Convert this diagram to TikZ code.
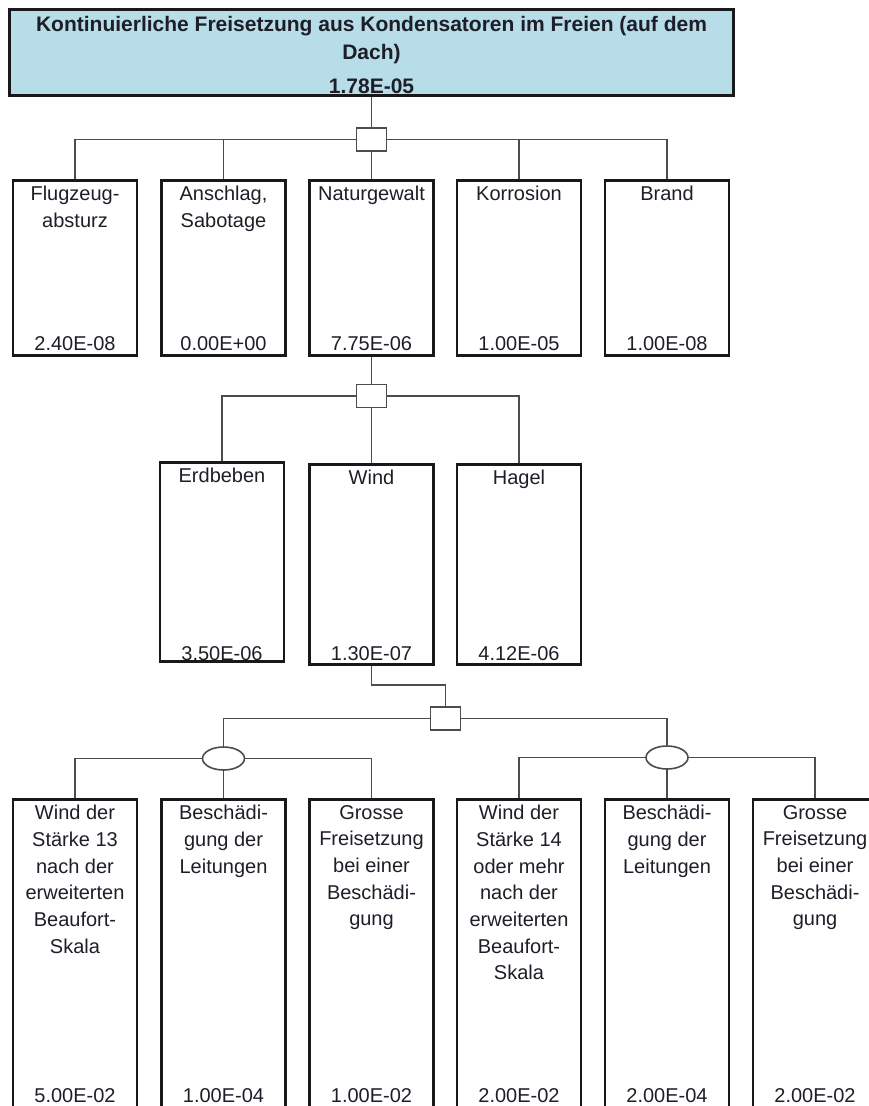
\documentclass[tikz,border=0pt]{standalone}
\usepackage{fontspec}
\setmainfont{Liberation Sans}
\usetikzlibrary{positioning,shapes.geometric}
\definecolor{topblue}{RGB}{183,221,232}
\definecolor{ink}{RGB}{30,30,40}

\begin{document}
\begin{tikzpicture}[x=1pt,y=-1pt,
 ev/.style={draw=black!90,line width=2.6pt,minimum width=124pt,inner sep=0pt},
 evA/.style={ev,minimum height=175pt},
 evB/.style={ev,minimum height=200pt},
 evC/.style={ev,minimum height=308.5pt},
 txt/.style={align=center,inner sep=0pt,text=ink,font=\fontsize{20}{26.7}\selectfont},
 val/.style={txt,anchor=south},
 andg/.style={draw=black!70,fill=white,line width=1.6pt,minimum width=30pt,minimum height=23pt,inner sep=0pt},
 org/.style={ellipse,draw=black!70,fill=white,line width=1.6pt,minimum width=42pt,minimum height=23pt,inner sep=0pt},
 con/.style={draw=black!70,line width=1.6pt}]
 \useasboundingbox (0,0) rectangle (869,1106);
 \clip (0,0) rectangle (869,1106);
 % top event
 \node[draw=black!90,line width=2.6pt,fill=topblue,minimum width=724pt,minimum height=86pt,inner sep=0pt] (topev) at (371.5,52.5) {};
 \node[txt,font=\bfseries\fontsize{21}{28}\selectfont,below=8pt of topev.north] (topev-t) {Kontinuierliche Freisetzung aus Kondensatoren im Freien (auf dem\\Dach)};
 \node[val,font=\bfseries\fontsize{21}{28}\selectfont,above=3pt of topev.south] (topev-v) {1.78E-05};
 % gates
 \node[andg] (g1) at (371.5,139.5) {};
 \node[andg] (g2) at (371.5,396) {};
 \node[andg] (g3) at (445.5,718.5) {};
 \node[org] (or1) at (223.5,758.5) {};
 \node[org] (or2) at (667,757.5) {};
 % first level
 \node[evA] (flug) at (75,268) {};
 \node[evA] (ansch) at (223.5,268) {};
 \node[evA] (natur) at (371.5,268) {};
 \node[evA] (korr) at (519,268) {};
 \node[evA] (brand) at (667,268) {};
 \node[txt,below=7pt of flug.north] (flug-t) {Flugzeug-\\absturz};
 \node[txt,below=7pt of ansch.north] (ansch-t) {Anschlag,\\Sabotage};
 \node[txt,below=7pt of natur.north] (natur-t) {Naturgewalt};
 \node[txt,below=7pt of korr.north] (korr-t) {Korrosion};
 \node[txt,below=7pt of brand.north] (brand-t) {Brand};
 \node[val,above=6pt of flug.south] (flug-v) {2.40E-08};
 \node[val,above=6pt of ansch.south] (ansch-v) {0.00E+00};
 \node[val,above=6pt of natur.south] (natur-v) {7.75E-06};
 \node[val,above=6pt of korr.south] (korr-v) {1.00E-05};
 \node[val,above=6pt of brand.south] (brand-v) {1.00E-08};
 % natural hazards
 \node[ev,minimum height=199pt] (erd) at (222,562) {};
 \node[evB] (wind) at (371.5,564.5) {};
 \node[evB] (hagel) at (519,564.5) {};
 \node[txt,below=7pt of erd.north] (erd-t) {Erdbeben};
 \node[txt,below=7pt of wind.north] (wind-t) {Wind};
 \node[txt,below=7pt of hagel.north] (hagel-t) {Hagel};
 \node[val,above=2pt of erd.south] (erd-v) {3.50E-06};
 \node[val,above=4.5pt of wind.south] (wind-v) {1.30E-07};
 \node[val,above=4.5pt of hagel.south] (hagel-v) {4.12E-06};
 % wind branches
 \node[evC] (w13) at (75,953.5) {};
 \node[evC] (lt1) at (223.5,953.5) {};
 \node[evC] (gf1) at (371.5,953.5) {};
 \node[evC] (w14) at (519,953.5) {};
 \node[evC] (lt2) at (667,953.5) {};
 \node[evC] (gf2) at (815,953.5) {};
 \node[txt,below=7pt of w13.north] (w13-t) {Wind der\\Stärke 13\\nach der\\erweiterten\\Beaufort-\\Skala};
 \node[txt,below=7pt of lt1.north] (lt1-t) {Beschädi-\\gung der\\Leitungen};
 \node[txt,below=7pt of gf1.north] (gf1-t) {Grosse\\Freisetzung\\bei einer\\Beschädi-\\gung};
 \node[txt,below=7pt of w14.north] (w14-t) {Wind der\\Stärke 14\\oder mehr\\nach der\\erweiterten\\Beaufort-\\Skala};
 \node[txt,below=7pt of lt2.north] (lt2-t) {Beschädi-\\gung der\\Leitungen};
 \node[txt,below=7pt of gf2.north] (gf2-t) {Grosse\\Freisetzung\\bei einer\\Beschädi-\\gung};
 \node[val,above=6pt of w13.south] (w13-v) {5.00E-02};
 \node[val,above=6pt of lt1.south] (lt1-v) {1.00E-04};
 \node[val,above=6pt of gf1.south] (gf1-v) {1.00E-02};
 \node[val,above=6pt of w14.south] (w14-v) {2.00E-02};
 \node[val,above=6pt of lt2.south] (lt2-v) {2.00E-04};
 \node[val,above=6pt of gf2.south] (gf2-v) {2.00E-02};
 % connectors
 \draw[con] (topev.south) -- (g1.north);
 \draw[con] (g1) -| (flug); \draw[con] (g1) -| (ansch); \draw[con] (g1) -- (natur);
 \draw[con] (g1) -| (korr); \draw[con] (g1) -| (brand);
 \draw[con] (natur) -- (g2);
 \draw[con] (g2) -| (erd); \draw[con] (g2) -- (wind); \draw[con] (g2) -| (hagel);
 \draw[con] (wind.south) -- ++(0,19) -| (g3);
 \draw[con] (g3) -| (or1); \draw[con] (g3) -| (or2);
 \draw[con] (or1) -| (w13); \draw[con] (or1) -- (lt1); \draw[con] (or1) -| (gf1);
 \draw[con] (or2) -| (w14); \draw[con] (or2) -- (lt2); \draw[con] (or2) -| (gf2);
\end{tikzpicture}
\end{document}
